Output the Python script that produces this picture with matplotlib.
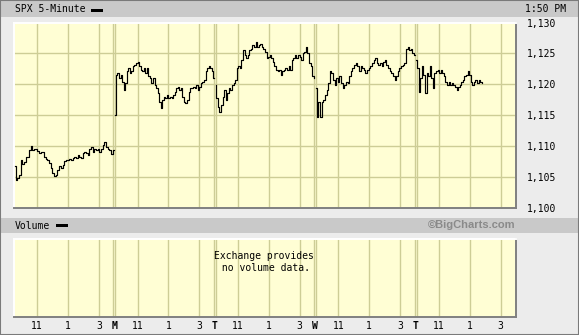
import numpy as np
import matplotlib.pyplot as plt
from matplotlib.patches import Rectangle

W, H = 579, 335

# cours SPX en 5 minutes (un jour par liste)
d1 = [1106.8, 1104.6, 1104.9, 1105.3, 1107.8, 1107.2, 1107.5, 1108.3, 1108.3, 1109.4,
      1110.0, 1109.4, 1109.6, 1109.5, 1109.2, 1108.9, 1109.1, 1109.1, 1108.3, 1108.0,
      1107.8, 1107.3, 1106.5, 1105.7, 1105.2, 1105.4, 1106.2, 1106.8, 1106.5, 1107.0,
      1107.6, 1107.8, 1107.8, 1107.9, 1107.8, 1108.1, 1108.3, 1108.1, 1108.6, 1108.3,
      1108.1, 1108.9, 1109.1, 1108.9, 1108.6, 1109.6, 1109.9, 1109.1, 1109.6, 1109.4,
      1109.6, 1109.1, 1109.6, 1110.2, 1110.7, 1109.9, 1109.6, 1109.4, 1108.8, 1109.4]
d2 = [1115.0, 1121.5, 1121.8, 1121.0, 1121.5, 1120.4, 1119.1, 1120.2, 1122.1, 1122.6,
      1121.8, 1122.1, 1122.9, 1123.1, 1123.4, 1123.7, 1122.9, 1122.3, 1122.1, 1122.6,
      1121.8, 1122.6, 1121.3, 1121.0, 1120.2, 1121.0, 1119.9, 1119.4, 1118.6, 1117.2,
      1116.2, 1117.5, 1118.0, 1117.8, 1118.3, 1117.8, 1118.0, 1117.8, 1118.3, 1118.8,
      1119.4, 1119.6, 1119.1, 1119.4, 1118.0, 1117.2, 1117.0, 1117.5, 1118.8, 1119.4,
      1119.4, 1119.6, 1119.4, 1119.9, 1119.1, 1119.6, 1120.2, 1120.4, 1120.7, 1122.1,
      1122.6, 1122.9, 1122.6, 1122.1, 1121.0]
d3 = [1119.9, 1117.8, 1116.4, 1115.6, 1116.7, 1118.0, 1119.1, 1117.5, 1118.6, 1119.4,
      1119.1, 1119.9, 1120.2, 1120.7, 1122.6, 1122.9, 1122.6, 1123.9, 1125.5, 1124.7,
      1124.2, 1124.7, 1125.5, 1125.8, 1126.4, 1126.1, 1126.9, 1126.1, 1126.4, 1126.6,
      1126.1, 1125.8, 1125.3, 1124.2, 1124.5, 1124.7, 1124.2, 1123.7, 1122.9, 1122.3,
      1122.1, 1122.3, 1121.5, 1122.1, 1122.3, 1122.6, 1122.3, 1122.9, 1122.3, 1123.9,
      1124.2, 1124.7, 1124.2, 1124.7, 1124.5, 1123.9, 1125.0, 1125.3, 1126.1, 1125.0,
      1123.4, 1122.9, 1121.3, 1121.0]
d4 = [1119.4, 1114.7, 1117.2, 1114.7, 1117.2, 1117.5, 1118.3, 1119.1, 1120.2, 1122.1,
      1121.8, 1120.7, 1119.9, 1121.0, 1120.4, 1121.3, 1120.2, 1119.4, 1119.9, 1120.4,
      1120.2, 1121.3, 1122.1, 1122.6, 1123.1, 1123.4, 1122.9, 1122.1, 1122.9, 1122.6,
      1122.3, 1121.8, 1122.3, 1122.6, 1122.9, 1123.4, 1123.9, 1124.2, 1123.4, 1123.1,
      1123.4, 1122.9, 1123.7, 1123.9, 1123.1, 1122.6, 1122.1, 1121.8, 1121.3, 1120.7,
      1121.3, 1122.1, 1122.6, 1122.9, 1123.1, 1123.4, 1125.8, 1126.1, 1125.5, 1125.8,
      1125.0, 1124.7]
d5 = [1123.9, 1122.6, 1118.8, 1121.0, 1122.9, 1121.5, 1118.6, 1121.8, 1121.3, 1122.9,
      1121.0, 1119.4, 1121.8, 1122.1, 1122.3, 1121.8, 1122.3, 1121.8, 1121.3, 1120.4,
      1119.9, 1120.4, 1119.9, 1120.2, 1119.9, 1119.6, 1119.1, 1119.6, 1119.9, 1120.4,
      1120.7, 1121.3, 1121.5, 1122.1, 1121.5, 1120.4, 1119.9, 1120.4, 1120.7, 1120.2,
      1120.7, 1120.4, 1120.3]
jours = [d1, d2, d3, d4, d5]
fin_jour = [6.45, 6.45, 6.45, 6.45, 4.33]  # heures apres 9h30 (dernier point 1:50 PM)

day_len = 6.5
hour_offsets = [1.5, 3.5, 5.5]
hour_labels = ["11", "1", "3"]
day_labels = ["M", "T", "W", "T"]
y_ticks = [1100, 1105, 1110, 1115, 1120, 1125, 1130]

mono = "DejaVu Sans Mono"
jaune = "#fffed4"
grille = "#cdcd96"


def rect(l, t, r, b):
    return [l / W, 1 - b / H, (r - l) / W, (b - t) / H]


def fig_rect(l, t, w, h, c):
    fig.add_artist(Rectangle((l / W, 1 - (t + h) / H), w / W, h / H,
                             transform=fig.transFigure, color=c, lw=0, zorder=0))


fig = plt.figure(figsize=(W / 100, H / 100), dpi=100, facecolor="#ececec")

# bandeaux gris
fig_rect(0, 0, W, 17, "#c9c9c9")
fig_rect(0, 218, W, 15, "#c9c9c9")
fig_rect(91, 8.5, 11.5, 3, "black")
fig_rect(56, 224, 12, 3, "black")
fig.text(15 / W, 1 - 9.5 / H, "SPX 5-Minute", family=mono, fontsize=7, va="center")
fig.text(525 / W, 1 - 9.5 / H, "1:50 PM", family=mono, fontsize=7, va="center")
fig.text(15 / W, 1 - 226 / H, "Volume", family=mono, fontsize=7, va="center")
fig.text(516 / W, 1 - 225.5 / H, "\u00a9BigCharts.com", family="Liberation Sans",
         fontweight="bold", fontsize=8, color="#8a8a8a", ha="right", va="center")
fig.add_artist(Rectangle((0, 0), 1, 1, transform=fig.transFigure, fill=False,
                         edgecolor="#7a7a7a", lw=1.5))

ax = fig.add_axes(rect(14, 22.6, 516, 208))
axv = fig.add_axes(rect(14, 239, 516, 317))

for a in (ax, axv):
    a.set_facecolor(jaune)
    a.set_xlim(0, 5 * day_len)
    for d in range(5):
        for h in hour_offsets:
            a.axvline(d * day_len + h, color=grille, lw=1.0, zorder=1)
        if d > 0:
            a.axvline(d * day_len - 0.06, color=grille, lw=1.0, zorder=1)
            a.axvline(d * day_len + 0.06, color=grille, lw=1.0, zorder=1)
    a.spines["top"].set_color("white")
    a.spines["left"].set_color("white")
    a.spines["bottom"].set_color("#808080")
    a.spines["right"].set_color("#808080")
    for s in a.spines.values():
        s.set_linewidth(1.4)
    a.tick_params(length=0)

ax.set_ylim(1100, 1130)
for y in y_ticks[1:-1]:
    ax.axhline(y, color=grille, lw=1.0, zorder=1)

for d, vals in enumerate(jours):
    x = d * day_len + np.linspace(0.05, fin_jour[d], len(vals))
    ax.plot(x, vals, color="black", lw=0.85, drawstyle="steps-mid", zorder=3)

ax.set_xticks([])
ax.yaxis.tick_right()
ax.set_yticks(y_ticks)
ax.set_yticklabels([f"{v:,}" for v in y_ticks], family=mono, fontsize=7)
ax.tick_params(axis="y", pad=8)

axv.set_ylim(0, 1)
axv.set_yticks([])
axv.text(0.497, 0.7, "Exchange provides\n no volume data.", transform=axv.transAxes,
         family=mono, fontsize=7, ha="center", va="center", linespacing=1.25)

pos, labs = [], []
for d in range(5):
    if d > 0:
        pos.append(d * day_len)
        labs.append(day_labels[d - 1])
    for h, l in zip(hour_offsets, hour_labels):
        pos.append(d * day_len + h)
        labs.append(l)
axv.set_xticks(pos)
axv.set_xticklabels(labs, family=mono, fontsize=7)
for t in axv.get_xticklabels():
    if t.get_text() in day_labels:
        t.set_fontweight("bold")
axv.tick_params(axis="x", pad=3)

fig.savefig("out.png", dpi=100, facecolor=fig.get_facecolor())
